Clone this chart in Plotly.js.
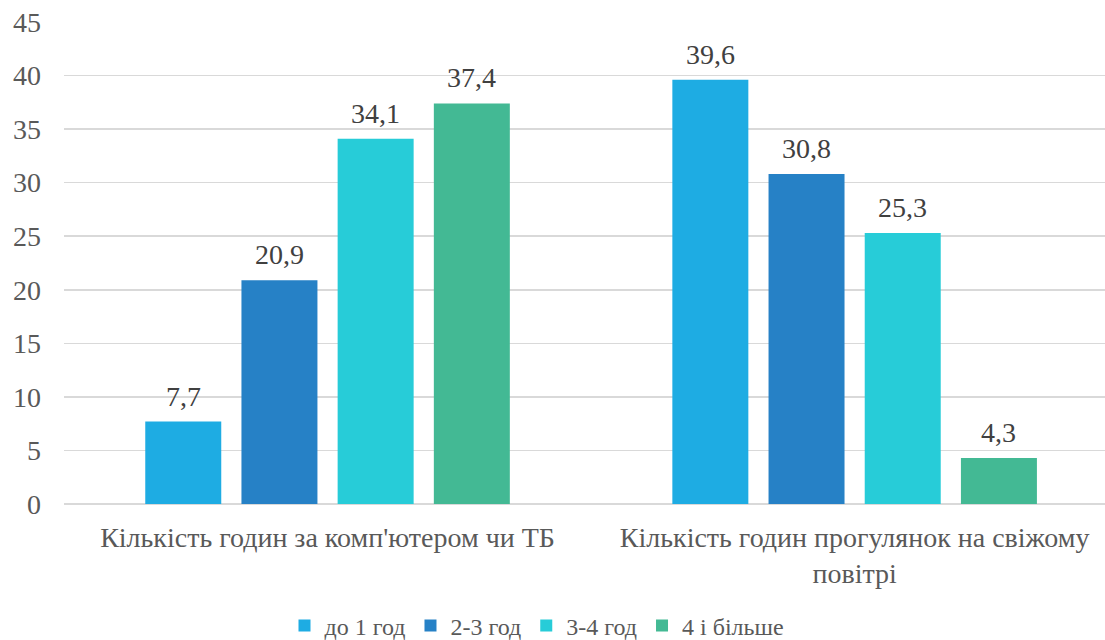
<!DOCTYPE html>
<html>
<head>
<meta charset="utf-8">
<style>
html,body{margin:0;padding:0;background:#fff;}
#chart{width:1105px;height:640px;}
#chart text{font-family:"Liberation Serif" !important;}
#fontwarm{position:absolute;left:-5000px;top:0;font-family:"Liberation Serif";font-size:28px;}
</style>
<script src="https://cdn.plot.ly/plotly-3.0.1.min.js"></script>
</head>
<body>
<div id="fontwarm">Кількість годин 0123456789 , до і більше</div>
<div id="chart"></div>
<script>
const categories = ["Кількість годин за комп'ютером чи ТБ", "Кількість годин прогулянок на свіжому<br>повітрі"];
const seriesNames = ["до 1 год", "2-3 год", "3-4 год", "4 і більше"];
const seriesValues = [
  [7.7, 39.6],
  [20.9, 30.8],
  [34.1, 25.3],
  [37.4, 4.3]
];
const seriesColors = ["#1EACE3", "#2681C6", "#27CCD8", "#43B994"];
const yTicks = [0, 5, 10, 15, 20, 25, 30, 35, 40, 45];

const FONT = "Liberation Serif";
const TXT = "#595959";
const BARGAP = 0.27;
const FS = 28;
const LEG_FS = 24;

const traces = seriesNames.map((name, i) => ({
  type: 'bar',
  name: name,
  x: [0, 1],
  y: seriesValues[i],
  marker: {color: seriesColors[i]},
  hoverinfo: 'none'
}));

// data labels as annotations placed on the library's axes above each bar
const slot = (1 - BARGAP) / seriesNames.length;
const annotations = [];
seriesValues.forEach((vals, i) => {
  vals.forEach((v, j) => {
    annotations.push({
      xref: 'x', yref: 'y',
      x: j + (i - (seriesNames.length - 1) / 2) * slot,
      y: v,
      text: v.toFixed(1).replace('.', ','),
      showarrow: false,
      yanchor: 'bottom',
      yshift: 8,
      font: {family: FONT, size: FS, color: '#404040'}
    });
  });
});

const layout = {
  width: 1105, height: 640,
  margin: {l: 64, r: 0, t: 22, b: 136},
  font: {family: FONT, size: FS, color: TXT},
  barmode: 'group',
  bargap: BARGAP,
  bargroupgap: 0.21,
  showlegend: true,
  annotations: annotations,
  legend: {orientation: 'h', x: 537 / 1105, xanchor: 'center', xref: 'container',
           y: 14 / 640, yanchor: 'middle', yref: 'container',
           font: {family: FONT, size: LEG_FS, color: TXT}, itemwidth: 30, traceorder: 'normal'},
  xaxis: {range: [-0.5, 1.475], tickvals: [0, 1], ticktext: categories, showline: false, ticks: '',
          automargin: false, ticklabelstandoff: 14,
          tickfont: {family: FONT, size: FS, color: TXT}},
  yaxis: {range: [0, 45], tickvals: yTicks, showgrid: true, gridcolor: '#D9D9D9', gridwidth: 1.5,
          zeroline: true, zerolinecolor: '#D9D9D9', zerolinewidth: 1.5, showline: false, ticks: '',
          automargin: false, ticklabelstandoff: 22, tickfont: {family: FONT, size: FS, color: TXT}}
};

const config = {staticPlot: true};
Plotly.newPlot('chart', traces, layout, config);
if (document.fonts && document.fonts.load) {
  Promise.all([
    document.fonts.load('28px "Liberation Serif"', 'Кількість 0123'),
    document.fonts.load('24px "Liberation Serif"', 'до 1 год')
  ]).then(() => {
    const gd = document.getElementById('chart');
    Plotly.purge(gd);
    Plotly.newPlot(gd, traces, layout, config);
  }).catch(() => {});
}
</script>
</body>
</html>
